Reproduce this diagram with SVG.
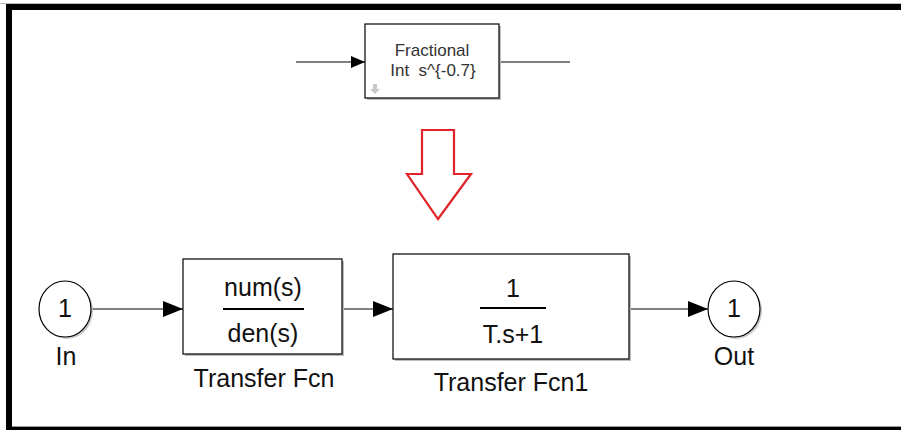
<svg xmlns="http://www.w3.org/2000/svg" width="901" height="430" viewBox="0 0 901 430">
  <style>
    .blk { fill: #ffffff; stroke: #000000; stroke-width: 1.2; }
    .shadow { fill: #bdbdbd; }
    .wire { fill: none; stroke: #000000; stroke-width: 1; }
    .lbl { font-family: "Liberation Sans", Arial, sans-serif; fill: #111111; text-anchor: middle; }
    .big { font-size: 25px; }
    .name { font-size: 25px; }
    .small { font-size: 17px; fill: #333333; }
  </style>
  <defs>
    <marker id="arr" viewBox="0 0 20 16" refX="20" refY="8" markerWidth="20" markerHeight="16" markerUnits="userSpaceOnUse" orient="auto">
      <path d="M0,0 L20,8 L0,16 Z" fill="#000000"/>
    </marker>
    <marker id="arrS" viewBox="0 0 14 12" refX="14" refY="6" markerWidth="14" markerHeight="12" markerUnits="userSpaceOnUse" orient="auto">
      <path d="M0,0 L14,6 L0,12 Z" fill="#000000"/>
    </marker>
  </defs>

  <!-- page background and frame -->
  <rect x="0" y="0" width="901" height="430" fill="#ffffff"/>
  <rect x="0" y="3" width="901" height="1" fill="#bbbbbb"/>
  <rect x="6" y="4" width="895" height="6" fill="#000000"/>
  <rect x="6" y="4" width="6" height="426" fill="#000000"/>
  <rect x="12" y="426" width="889" height="1" fill="#999999"/>
  <rect x="6" y="427" width="895" height="3" fill="#000000"/>

  <!-- connectors -->
  <g id="connectors">
    <line class="wire" x1="296" y1="62" x2="365" y2="62" marker-end="url(#arrS)"/>
    <line class="wire" x1="499" y1="62" x2="570" y2="62"/>
    <line class="wire" x1="92" y1="309" x2="183" y2="309" marker-end="url(#arr)"/>
    <line class="wire" x1="342" y1="309" x2="393" y2="309" marker-end="url(#arr)"/>
    <line class="wire" x1="629" y1="309" x2="708" y2="309" marker-end="url(#arr)"/>
  </g>

  <!-- fractional integrator block -->
  <g id="frac">
    <rect class="shadow" x="367" y="26" width="134" height="74"/>
    <rect class="blk" x="365" y="24" width="134" height="74"/>
    <text class="lbl small" x="432" y="56">Fractional</text>
    <text class="lbl small" x="433" y="76" xml:space="preserve">Int  s^{-0.7}</text>
    <path d="M373,84 h4 v5 h3 l-5,5 l-5,-5 h3 Z" fill="#c8c8c8"/>
  </g>

  <!-- red down arrow -->
  <g id="red-arrow">
    <path d="M422,130 L454,130 L454,174 L471,174 L438,219 L407,174 L422,174 Z" fill="none" stroke="#e0242a" stroke-width="2.2" stroke-linejoin="miter"/>
  </g>

  <!-- inport -->
  <g id="in">
    <ellipse cx="67" cy="311" rx="26" ry="28" fill="#c8c8c8"/>
    <ellipse cx="65" cy="309" rx="26" ry="28" fill="#ffffff" stroke="#000000" stroke-width="1.2"/>
    <text class="lbl big" x="65" y="317">1</text>
    <text class="lbl name" x="66" y="365">In</text>
  </g>

  <!-- transfer function num/den -->
  <g id="tf">
    <rect class="shadow" x="185" y="261" width="159" height="95"/>
    <rect class="blk" x="183" y="259" width="159" height="95"/>
    <text class="lbl big" x="263" y="296">num(s)</text>
    <line x1="223" y1="309" x2="304" y2="309" stroke="#000000" stroke-width="2"/>
    <text class="lbl big" x="263" y="342">den(s)</text>
    <text class="lbl name" x="264" y="387">Transfer Fcn</text>
  </g>

  <!-- transfer function 1/(T.s+1) -->
  <g id="tf1">
    <rect class="shadow" x="395" y="256" width="236" height="105"/>
    <rect class="blk" x="393" y="254" width="236" height="105"/>
    <text class="lbl big" x="513" y="297">1</text>
    <line x1="480" y1="308" x2="546" y2="308" stroke="#000000" stroke-width="2"/>
    <text class="lbl big" x="513" y="343">T.s+1</text>
    <text class="lbl name" x="511" y="391">Transfer Fcn1</text>
  </g>

  <!-- outport -->
  <g id="out">
    <ellipse cx="736" cy="311" rx="26" ry="28" fill="#c8c8c8"/>
    <ellipse cx="734" cy="309" rx="26" ry="28" fill="#ffffff" stroke="#000000" stroke-width="1.2"/>
    <text class="lbl big" x="734" y="317">1</text>
    <text class="lbl name" x="734" y="365">Out</text>
  </g>
</svg>
